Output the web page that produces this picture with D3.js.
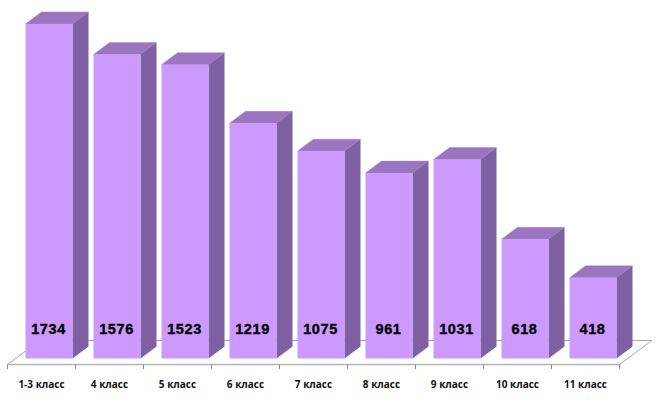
<!DOCTYPE html>
<html><head><meta charset="utf-8">
<script src="https://cdn.jsdelivr.net/npm/d3@7/dist/d3.min.js"></script>
<style>html,body{margin:0;padding:0;background:#fff}svg{display:block}</style>
</head><body><svg id="c" width="658" height="403"></svg>
<script>
const categories = ["1-3 класс","4 класс","5 класс","6 класс","7 класс","8 класс","9 класс","10 класс","11 класс"];
const values = [1734,1576,1523,1219,1075,961,1031,618,418];

const W=658,H=403;
const svg=d3.select("#c").attr("viewBox",[0,0,W,H]);
const x=d3.scaleBand().domain(categories).range([7.5,619.5]);
const y=d3.scaleLinear().domain([0,1734]).range([358.5,24]);
const floorY=364.5, barOff=18, barW=47, dx=16, dy=-12;
const pts=a=>a.map(p=>p.join(",")).join(" ");

// floor
svg.append("polygon")
  .attr("points",pts([[7.5,floorY],[619.5,floorY],[652,340.5],[40,340.5]]))
  .attr("fill","#fff").attr("stroke","#a9a9a9").attr("stroke-width",1);
// axis: band-edge ticks and labels
const axisG=svg.append("g").attr("transform",`translate(0,${floorY})`);
axisG.append("line").attr("x1",7.5).attr("x2",619.5).attr("stroke","#b4b4b4").attr("stroke-width",1.6);
axisG.selectAll("line.t").data([...categories.map(c=>x(c)),x.range()[1]]).join("line")
  .attr("class","t").attr("x1",d=>d).attr("x2",d=>d).attr("y1",0).attr("y2",4.5)
  .attr("stroke","#8c8c8c").attr("stroke-width",1);
const axis=d3.axisBottom(x).tickSize(0).tickPadding(16);
const ag=svg.append("g").attr("transform",`translate(0,${floorY})`).call(axis);
ag.select(".domain").remove();
ag.selectAll("text").attr("font-family","'Open Sans', 'Liberation Sans', sans-serif")
  .attr("font-size",10).attr("font-weight",700).attr("fill","#111");

// bars
const bars=svg.selectAll("g.bar").data(categories.map((c,i)=>({c,v:values[i]}))).join("g").attr("class","bar");
bars.each(function(d){
  const g=d3.select(this), l=x(d.c)+barOff, r=l+barW, t=y(d.v), b=y(0);
  g.append("polygon").attr("points",pts([[l,t],[r,t],[r+dx,t+dy],[l+dx,t+dy]]))
    .attr("fill","#9c75c1").attr("stroke","#a785c9").attr("stroke-width",0.5);
  g.append("polygon").attr("points",pts([[r,t],[r+dx,t+dy],[r+dx,b+dy],[r,b]]))
    .attr("fill","#7f60a2");
  g.append("rect").attr("x",l).attr("y",t).attr("width",barW).attr("height",b-t)
    .attr("fill","#cc99ff");
});
bars.append("text").attr("x",d=>x(d.c)+barOff+barW/2-0.5).attr("y",333.5)
  .attr("text-anchor","middle").attr("font-family","Liberation Sans, Arial, sans-serif")
  .attr("font-size",14.5).attr("font-weight",700).attr("letter-spacing",0.6)
  .attr("stroke","#000").attr("stroke-width",0.35).attr("fill","#000").text(d=>d.v);
</script></body></html>
